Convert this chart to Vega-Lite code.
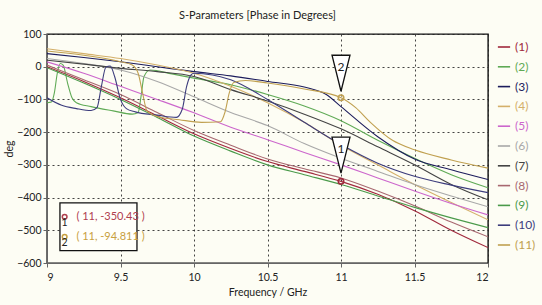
{
  "$schema": "https://vega.github.io/schema/vega-lite/v6.json",
  "width": 441,
  "height": 229,
  "autosize": {"type": "none"},
  "padding": {"left": 47, "top": 34, "right": 54, "bottom": 42},
  "background": "#fdfdf4",
  "title": {"text": "S-Parameters [Phase in Degrees]", "fontSize": 11, "fontWeight": "normal", "font": "Lato", "color": "#222222", "offset": 8, "dx": -10},
  "config": {
    "font": "Lato",
    "view": {"stroke": "#111111", "strokeWidth": 1.4},
    "axis": {"labelFont": "Lato", "titleFont": "Lato", "labelFontSize": 10.5, "titleFontSize": 10.5, "titleFontWeight": "normal", "labelColor": "#222222", "titleColor": "#222222", "domainColor": "#666666", "tickColor": "#666666", "tickSize": 4, "labelOverlap": false, "grid": true, "gridColor": "#222222", "gridDash": [2, 3], "gridOpacity": 0.85, "gridWidth": 1}
  },
  "datasets": {
    "curves": [
      {"s": "(1)", "f": 9, "v": 0}, {"s": "(1)", "f": 9.25, "v": -45}, {"s": "(1)", "f": 9.5, "v": -95}, {"s": "(1)", "f": 9.75, "v": -150}, {"s": "(1)", "f": 10, "v": -205}, {"s": "(1)", "f": 10.25, "v": -250}, {"s": "(1)", "f": 10.5, "v": -290}, {"s": "(1)", "f": 10.75, "v": -320}, {"s": "(1)", "f": 11, "v": -350.43}, {"s": "(1)", "f": 11.25, "v": -390}, {"s": "(1)", "f": 11.5, "v": -440}, {"s": "(1)", "f": 11.75, "v": -500}, {"s": "(1)", "f": 12, "v": -553},

      {"s": "(2)", "f": 9, "v": -110}, {"s": "(2)", "f": 9.03, "v": -108}, {"s": "(2)", "f": 9.05, "v": -80}, {"s": "(2)", "f": 9.07, "v": -20}, {"s": "(2)", "f": 9.09, "v": 10}, {"s": "(2)", "f": 9.11, "v": 5}, {"s": "(2)", "f": 9.14, "v": -50}, {"s": "(2)", "f": 9.17, "v": -95}, {"s": "(2)", "f": 9.2, "v": -110}, {"s": "(2)", "f": 9.3, "v": -122}, {"s": "(2)", "f": 9.45, "v": -135}, {"s": "(2)", "f": 9.58, "v": -145}, {"s": "(2)", "f": 9.62, "v": -140}, {"s": "(2)", "f": 9.64, "v": -90}, {"s": "(2)", "f": 9.66, "v": -30}, {"s": "(2)", "f": 9.7, "v": -10}, {"s": "(2)", "f": 9.85, "v": -22}, {"s": "(2)", "f": 10, "v": -35}, {"s": "(2)", "f": 10.25, "v": -55}, {"s": "(2)", "f": 10.5, "v": -85}, {"s": "(2)", "f": 10.75, "v": -120}, {"s": "(2)", "f": 11, "v": -165}, {"s": "(2)", "f": 11.25, "v": -225}, {"s": "(2)", "f": 11.5, "v": -280}, {"s": "(2)", "f": 11.75, "v": -330}, {"s": "(2)", "f": 12, "v": -370},

      {"s": "(3)", "f": 9, "v": 40}, {"s": "(3)", "f": 9.25, "v": 28}, {"s": "(3)", "f": 9.5, "v": 15}, {"s": "(3)", "f": 9.75, "v": 0}, {"s": "(3)", "f": 10, "v": -15}, {"s": "(3)", "f": 10.25, "v": -28}, {"s": "(3)", "f": 10.5, "v": -45}, {"s": "(3)", "f": 10.75, "v": -62}, {"s": "(3)", "f": 10.9, "v": -85}, {"s": "(3)", "f": 11, "v": -122}, {"s": "(3)", "f": 11.25, "v": -214}, {"s": "(3)", "f": 11.5, "v": -282}, {"s": "(3)", "f": 11.75, "v": -315}, {"s": "(3)", "f": 12, "v": -345},

      {"s": "(4)", "f": 9, "v": 55}, {"s": "(4)", "f": 9.25, "v": 40}, {"s": "(4)", "f": 9.5, "v": 25}, {"s": "(4)", "f": 9.75, "v": 5}, {"s": "(4)", "f": 10, "v": -20}, {"s": "(4)", "f": 10.25, "v": -60}, {"s": "(4)", "f": 10.5, "v": -110}, {"s": "(4)", "f": 10.75, "v": -170}, {"s": "(4)", "f": 11, "v": -240}, {"s": "(4)", "f": 11.25, "v": -300}, {"s": "(4)", "f": 11.5, "v": -360}, {"s": "(4)", "f": 11.75, "v": -415}, {"s": "(4)", "f": 12, "v": -468},

      {"s": "(5)", "f": 9, "v": 15}, {"s": "(5)", "f": 9.25, "v": -20}, {"s": "(5)", "f": 9.5, "v": -60}, {"s": "(5)", "f": 9.75, "v": -100}, {"s": "(5)", "f": 10, "v": -141}, {"s": "(5)", "f": 10.25, "v": -185}, {"s": "(5)", "f": 10.5, "v": -223}, {"s": "(5)", "f": 10.75, "v": -262}, {"s": "(5)", "f": 11, "v": -300}, {"s": "(5)", "f": 11.25, "v": -340}, {"s": "(5)", "f": 11.5, "v": -380}, {"s": "(5)", "f": 11.75, "v": -418}, {"s": "(5)", "f": 12, "v": -453},

      {"s": "(6)", "f": 9, "v": 25}, {"s": "(6)", "f": 9.25, "v": 10}, {"s": "(6)", "f": 9.5, "v": -10}, {"s": "(6)", "f": 9.75, "v": -45}, {"s": "(6)", "f": 10, "v": -92}, {"s": "(6)", "f": 10.25, "v": -140}, {"s": "(6)", "f": 10.5, "v": -180}, {"s": "(6)", "f": 10.75, "v": -235}, {"s": "(6)", "f": 11, "v": -280}, {"s": "(6)", "f": 11.25, "v": -320}, {"s": "(6)", "f": 11.5, "v": -360}, {"s": "(6)", "f": 11.75, "v": -395}, {"s": "(6)", "f": 12, "v": -428},

      {"s": "(7)", "f": 9, "v": 20}, {"s": "(7)", "f": 9.25, "v": 8}, {"s": "(7)", "f": 9.5, "v": -5}, {"s": "(7)", "f": 9.75, "v": -15}, {"s": "(7)", "f": 10, "v": -30}, {"s": "(7)", "f": 10.25, "v": -70}, {"s": "(7)", "f": 10.5, "v": -105}, {"s": "(7)", "f": 10.75, "v": -145}, {"s": "(7)", "f": 11, "v": -190}, {"s": "(7)", "f": 11.25, "v": -245}, {"s": "(7)", "f": 11.5, "v": -300}, {"s": "(7)", "f": 11.75, "v": -360}, {"s": "(7)", "f": 12, "v": -407},

      {"s": "(8)", "f": 9, "v": 5}, {"s": "(8)", "f": 9.25, "v": -40}, {"s": "(8)", "f": 9.5, "v": -85}, {"s": "(8)", "f": 9.75, "v": -140}, {"s": "(8)", "f": 10, "v": -195}, {"s": "(8)", "f": 10.25, "v": -240}, {"s": "(8)", "f": 10.5, "v": -282}, {"s": "(8)", "f": 10.75, "v": -312}, {"s": "(8)", "f": 11, "v": -340}, {"s": "(8)", "f": 11.25, "v": -380}, {"s": "(8)", "f": 11.5, "v": -425}, {"s": "(8)", "f": 11.75, "v": -475}, {"s": "(8)", "f": 12, "v": -520},

      {"s": "(9)", "f": 9, "v": -3}, {"s": "(9)", "f": 9.25, "v": -50}, {"s": "(9)", "f": 9.5, "v": -100}, {"s": "(9)", "f": 9.75, "v": -155}, {"s": "(9)", "f": 10, "v": -212}, {"s": "(9)", "f": 10.25, "v": -258}, {"s": "(9)", "f": 10.5, "v": -300}, {"s": "(9)", "f": 10.75, "v": -330}, {"s": "(9)", "f": 11, "v": -360}, {"s": "(9)", "f": 11.25, "v": -395}, {"s": "(9)", "f": 11.5, "v": -430}, {"s": "(9)", "f": 11.75, "v": -462}, {"s": "(9)", "f": 12, "v": -492},

      {"s": "(10)", "f": 9, "v": -95}, {"s": "(10)", "f": 9.1, "v": -118}, {"s": "(10)", "f": 9.2, "v": -128}, {"s": "(10)", "f": 9.3, "v": -134}, {"s": "(10)", "f": 9.34, "v": -125}, {"s": "(10)", "f": 9.37, "v": -60}, {"s": "(10)", "f": 9.4, "v": -2}, {"s": "(10)", "f": 9.43, "v": 2}, {"s": "(10)", "f": 9.46, "v": -30}, {"s": "(10)", "f": 9.5, "v": -100}, {"s": "(10)", "f": 9.54, "v": -128}, {"s": "(10)", "f": 9.6, "v": -138}, {"s": "(10)", "f": 9.75, "v": -148}, {"s": "(10)", "f": 9.88, "v": -155}, {"s": "(10)", "f": 9.92, "v": -130}, {"s": "(10)", "f": 9.95, "v": -60}, {"s": "(10)", "f": 9.98, "v": -25}, {"s": "(10)", "f": 10, "v": -20}, {"s": "(10)", "f": 10.25, "v": -40}, {"s": "(10)", "f": 10.5, "v": -100}, {"s": "(10)", "f": 10.75, "v": -170}, {"s": "(10)", "f": 11, "v": -238}, {"s": "(10)", "f": 11.25, "v": -295}, {"s": "(10)", "f": 11.5, "v": -335}, {"s": "(10)", "f": 11.75, "v": -362}, {"s": "(10)", "f": 12, "v": -385},

      {"s": "(11)", "f": 9, "v": 48}, {"s": "(11)", "f": 9.25, "v": 35}, {"s": "(11)", "f": 9.5, "v": 15}, {"s": "(11)", "f": 9.58, "v": 5}, {"s": "(11)", "f": 9.62, "v": -20}, {"s": "(11)", "f": 9.65, "v": -80}, {"s": "(11)", "f": 9.68, "v": -135}, {"s": "(11)", "f": 9.75, "v": -152}, {"s": "(11)", "f": 9.9, "v": -162}, {"s": "(11)", "f": 10.05, "v": -170}, {"s": "(11)", "f": 10.18, "v": -168}, {"s": "(11)", "f": 10.21, "v": -140}, {"s": "(11)", "f": 10.24, "v": -80}, {"s": "(11)", "f": 10.27, "v": -48}, {"s": "(11)", "f": 10.35, "v": -42}, {"s": "(11)", "f": 10.5, "v": -50}, {"s": "(11)", "f": 10.75, "v": -68}, {"s": "(11)", "f": 11, "v": -94.811}, {"s": "(11)", "f": 11.1, "v": -125}, {"s": "(11)", "f": 11.2, "v": -170}, {"s": "(11)", "f": 11.35, "v": -225}, {"s": "(11)", "f": 11.5, "v": -254}, {"s": "(11)", "f": 11.75, "v": -285}, {"s": "(11)", "f": 12, "v": -310}
    ],
    "markers": [
      {"f": 11, "v": -350.43, "s": "(1)", "n": "1", "tri": -270, "num": -252},
      {"f": 11, "v": -94.811, "s": "(11)", "n": "2", "tri": -20, "num": -2}
    ],
    "box": [{"x1": 9.088, "x2": 9.612, "y1": -416, "y2": -562}],
    "boxtext": [
      {"f": 9.2, "v": -459, "t": "( 11, -350.43 )", "c": "#b0404f", "cf": 9.12, "nv": -478, "n": "1"},
      {"f": 9.2, "v": -520, "t": "( 11, -94.811 )", "c": "#c8a040", "cf": 9.12, "nv": -540, "n": "2"}
    ]
  },
  "encoding": {
    "x": {"type": "quantitative", "scale": {"domain": [9, 12], "nice": false}, "axis": {"title": "Frequency / GHz", "values": [9, 9.5, 10, 10.5, 11, 11.5, 12], "format": "~g", "labelPadding": 5, "titlePadding": 5}},
    "y": {"type": "quantitative", "scale": {"domain": [-600, 100], "nice": false}, "axis": {"title": "deg", "values": [100, 0, -100, -200, -300, -400, -500, -600], "labelPadding": 2, "titlePadding": 2}}
  },
  "layer": [
    {
      "data": {"name": "curves"},
      "mark": {"type": "line", "strokeWidth": 1.1, "interpolate": "monotone", "clip": true},
      "encoding": {
        "x": {"field": "f", "type": "quantitative"},
        "y": {"field": "v", "type": "quantitative"},
        "color": {"field": "s", "type": "nominal", "scale": {"domain": ["(1)", "(2)", "(3)", "(4)", "(5)", "(6)", "(7)", "(8)", "(9)", "(10)", "(11)"], "range": ["#a0283c", "#5faa55", "#1c1c5c", "#d4b06a", "#cc66cc", "#a8a8a8", "#444444", "#a86870", "#4a9a4a", "#3c3c7c", "#c0a050"]},
          "legend": {"title": null, "orient": "right", "offset": 3, "padding": 6, "symbolType": "stroke", "symbolStrokeWidth": 1.6, "symbolSize": 150, "labelFontSize": 12, "rowPadding": 6.8, "labelFont": "Lato", "encode": {"labels": {"update": {"fill": {"scale": "color", "field": "value"}}}}}},
        "detail": {"field": "s"}
      }
    },
    {
      "data": {"name": "markers"},
      "mark": {"type": "point", "shape": "M-0.5,-1L0.5,-1L0,1Z", "size": 1296, "filled": true, "fill": "white", "stroke": "#111111", "strokeWidth": 1.3, "opacity": 1},
      "encoding": {"x": {"field": "f", "type": "quantitative"}, "y": {"field": "tri", "type": "quantitative"}}
    },
    {
      "data": {"name": "markers"},
      "mark": {"type": "text", "fontSize": 12, "color": "#222222", "font": "Lato"},
      "encoding": {"x": {"field": "f", "type": "quantitative"}, "y": {"field": "num", "type": "quantitative"}, "text": {"field": "n"}}
    },
    {
      "data": {"name": "markers"},
      "mark": {"type": "point", "size": 30, "filled": false, "strokeWidth": 1.6, "opacity": 1},
      "encoding": {"x": {"field": "f", "type": "quantitative"}, "y": {"field": "v", "type": "quantitative"}, "color": {"field": "s", "type": "nominal", "legend": null}}
    },
    {
      "data": {"name": "box"},
      "mark": {"type": "rect", "fill": "#fffffa", "stroke": "#111111", "strokeWidth": 1.3},
      "encoding": {"x": {"field": "x1", "type": "quantitative"}, "x2": {"field": "x2"}, "y": {"field": "y1", "type": "quantitative"}, "y2": {"field": "y2"}}
    },
    {
      "data": {"name": "boxtext"},
      "mark": {"type": "text", "align": "left", "fontSize": 11, "font": "Lato"},
      "encoding": {"x": {"field": "f", "type": "quantitative"}, "y": {"field": "v", "type": "quantitative"}, "text": {"field": "t"}, "color": {"field": "c", "type": "nominal", "scale": null}}
    },
    {
      "data": {"name": "boxtext"},
      "mark": {"type": "point", "size": 22, "filled": false, "strokeWidth": 1.5, "opacity": 1},
      "encoding": {"x": {"field": "cf", "type": "quantitative"}, "y": {"field": "v", "type": "quantitative"}, "color": {"field": "c", "type": "nominal", "scale": null}}
    },
    {
      "data": {"name": "boxtext"},
      "mark": {"type": "text", "fontSize": 10.5, "color": "#222222", "font": "Lato"},
      "encoding": {"x": {"field": "cf", "type": "quantitative"}, "y": {"field": "nv", "type": "quantitative"}, "text": {"field": "n"}}
    }
  ]
}
